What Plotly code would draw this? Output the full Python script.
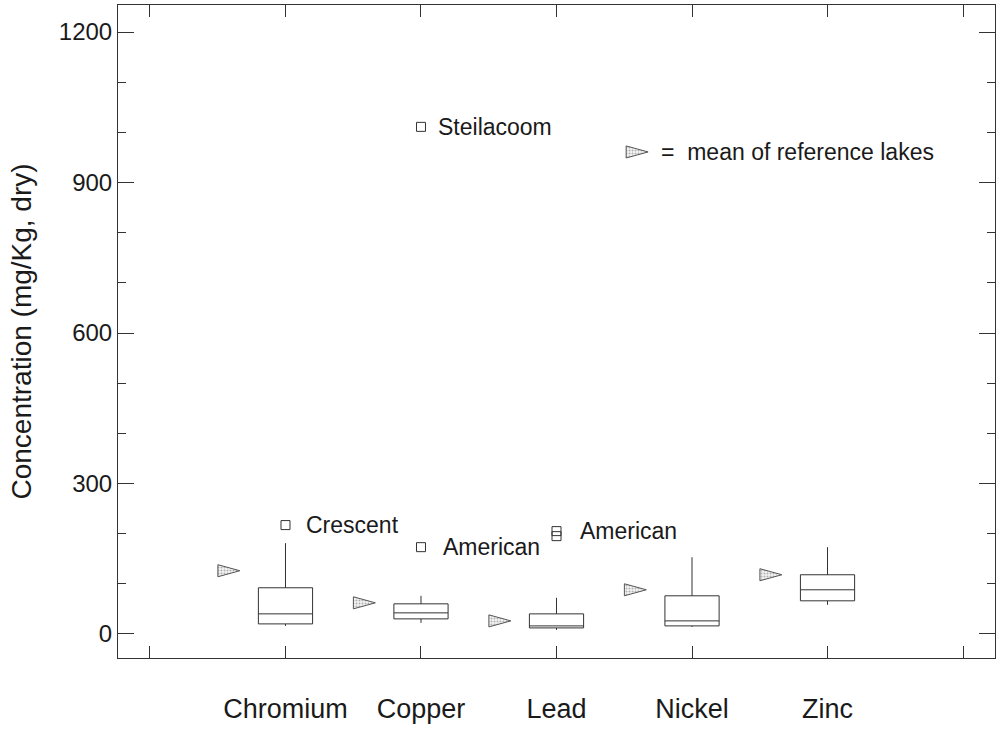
import plotly.graph_objects as go

# ---- data ----
metals = ["Chromium", "Copper", "Lead", "Nickel", "Zinc"]
metal_pos = [1, 2, 3, 4, 5]
lower_whisker = [16, 22, 8, 14, 58]
q1_vals = [20, 30, 12, 16, 66]
median_vals = [40, 42, 16, 26, 88]
q3_vals = [92, 60, 40, 76, 118]
upper_whisker = [181, 76, 72, 153, 173]

ref_lake_mean = [126, 62, 26, 88, 118]

outlier_metal_pos = [1, 2, 2, 3, 3]
outlier_vals = [217, 1011, 173, 195, 205]
outlier_names = ["Crescent", "Steilacoom", "American", "", "American"]

legend_pos = 3.595
legend_val = 961
legend_text = "=  mean of reference lakes"

y_tickvals = [0, 300, 600, 900, 1200]
x_tickvals = [0, 1, 2, 3, 4, 5, 6]

# ---- style ----
FONT = "Liberation Sans, Arial, Helvetica, sans-serif"
INK = "#1a1a1a"
LINE = "#333333"
TRI_OFFSET = 0.418      # triangle centre, left of the box (x units)
TRI_W = 0.162           # triangle length (x units)
TRI_H = 24              # triangle height (y units)


def triangles(xs, ys):
    px, py = [], []
    for xc, yc in zip(xs, ys):
        px += [xc - TRI_W / 2, xc + TRI_W / 2, xc - TRI_W / 2, xc - TRI_W / 2, None]
        py += [yc - TRI_H / 2, yc, yc + TRI_H / 2, yc - TRI_H / 2, None]
    return px, py


fig = go.Figure()

fig.add_trace(go.Box(
    x=metal_pos,
    q1=q1_vals,
    median=median_vals,
    q3=q3_vals,
    lowerfence=lower_whisker,
    upperfence=upper_whisker,
    width=0.4,
    whiskerwidth=0,
    boxpoints=False,
    fillcolor="rgba(255,255,255,0)",
    line=dict(color=LINE, width=1),
    showlegend=False,
    hoverinfo="skip",
))

# reference-lake means (stippled triangles) left of each box, plus the key triangle
tx, ty = triangles([p - TRI_OFFSET for p in metal_pos] + [legend_pos],
                   ref_lake_mean + [legend_val])
fig.add_trace(go.Scatter(
    x=tx, y=ty, mode="lines", fill="toself",
    fillcolor="#e6e6e6",
    fillpattern=dict(shape=".", fgcolor="#6a6a6a", bgcolor="#f4f4f4", size=3, solidity=0.35),
    line=dict(color="#555555", width=1),
    showlegend=False, hoverinfo="skip",
))

# outlier lakes (open squares)
fig.add_trace(go.Scatter(
    x=outlier_metal_pos,
    y=outlier_vals,
    mode="markers",
    marker=dict(symbol="square-open", size=9, color=LINE, line=dict(width=1)),
    showlegend=False,
    hoverinfo="skip",
))

label_shifts = [19, 15, 20, 20, 21]
for xp, yv, name, sh in zip(outlier_metal_pos, outlier_vals, outlier_names, label_shifts):
    if name:
        fig.add_annotation(x=xp, y=yv, xref="x", yref="y", text=name,
                           showarrow=False, xanchor="left", yanchor="middle",
                           xshift=sh, font=dict(family=FONT, size=23, color=INK))

fig.add_annotation(x=legend_pos, y=legend_val, xref="x", yref="y", text=legend_text,
                   showarrow=False, xanchor="left", yanchor="middle", xshift=22,
                   font=dict(family=FONT, size=23, color=INK))

fig.update_layout(
    width=997, height=730,
    margin=dict(l=118, r=2, t=5, b=72),
    paper_bgcolor="white", plot_bgcolor="white",
    font=dict(family=FONT, color=INK),
    showlegend=False,
)

fig.update_xaxes(
    range=[-0.236, 6.236], automargin=False,
    tickmode="array", tickvals=x_tickvals,
    ticktext=[""] + metals + [""],
    ticks="inside", ticklen=12, tickcolor=LINE, tickwidth=1,
    ticklabelstandoff=27,
    tickfont=dict(family=FONT, size=27, color=INK),
    showline=True, linecolor=LINE, linewidth=1, mirror="ticks",
    showgrid=False, zeroline=False,
)

fig.update_yaxes(
    range=[-48, 1254], automargin=False,
    tickmode="array", tickvals=y_tickvals,
    ticks="inside", ticklen=16, tickcolor=LINE, tickwidth=1,
    tickfont=dict(family=FONT, size=24, color=INK),
    minor=dict(dtick=100, tick0=0, ticks="inside", ticklen=8, tickcolor=LINE),
    showline=True, linecolor=LINE, linewidth=1, mirror="ticks",
    showgrid=False, zeroline=False,
    title=dict(text="Concentration (mg/Kg, dry)", standoff=19,
               font=dict(family=FONT, size=28, color=INK)),
)

fig.write_html("out.html",
               config={"displayModeBar": False},
               post_script="document.body.style.margin='0';document.body.style.overflow='hidden';")
